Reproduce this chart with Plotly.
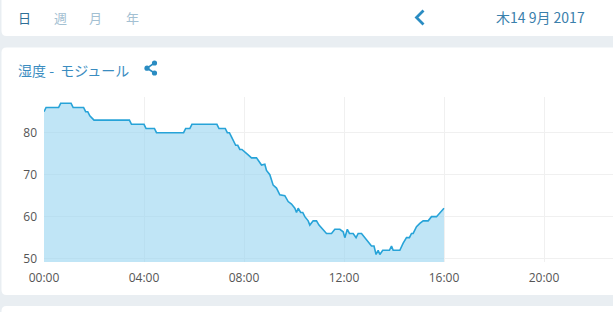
import plotly.graph_objects as go

DAY = "2017-09-14"

times = [
    "00:00", "00:05", "00:35", "00:40", "01:05", "01:10", "01:35", "01:40", "01:45", "01:50",
    "02:00", "03:25", "03:30", "04:00", "04:05", "04:25", "04:30", "05:35", "05:40", "05:50",
    "05:55", "06:55", "07:00", "07:15", "07:20", "07:25", "07:30", "07:35", "07:40", "07:45",
    "07:50", "07:55", "08:00", "08:10", "08:18", "08:30", "08:42", "08:50", "08:54", "09:02",
    "09:10", "09:18", "09:26", "09:38", "09:46", "09:54", "10:02", "10:06", "10:10", "10:16",
    "10:21", "10:26", "10:34", "10:38", "10:46", "10:54", "11:00", "11:10", "11:18", "11:30",
    "11:38", "11:50", "11:58", "12:02", "12:08", "12:13", "12:22", "12:29", "12:34", "12:42",
    "12:50", "12:58", "13:06", "13:12", "13:17", "13:22", "13:26", "13:33", "13:42", "13:49",
    "13:54", "13:58", "14:06", "14:14", "14:22", "14:30", "14:37", "14:42", "14:46", "14:54",
    "15:02", "15:10", "15:22", "15:30", "15:42", "15:50", "15:58", "16:00",
]

humidity = [
    85, 86, 86, 87, 87, 86, 86, 85, 85, 84,
    83, 83, 82, 82, 81, 81, 80, 80, 81, 81,
    82, 82, 81, 81, 80, 80, 79, 78, 77, 77,
    76, 76, 75.5, 74.7, 74, 74, 72.3, 72.5, 71, 70,
    67.5, 66.8, 65.2, 65, 63.6, 63, 62, 61, 62, 61,
    61, 60, 59, 58, 59, 59, 58, 57, 56, 56,
    57, 57, 56.4, 55, 57, 56, 56, 55, 56, 56,
    55, 54, 53, 53, 51, 52, 51, 52, 52, 52,
    53, 52, 52, 52, 53.7, 55, 55, 56, 56, 57.6,
    58.4, 59, 59, 60, 60, 61, 62, 62,
]

y_ticks = [50, 60, 70, 80]
x_tick_labels = ["00:00", "04:00", "08:00", "12:00", "16:00", "20:00"]

tabs = ["日", "週", "月", "年"]
date_label = "木14 9月 2017"
title_label = "湿度 -  モジュール"

# ---- layout geometry (pixels) ----
FW, FH = 613, 312
ML, MR, MT, MB = 44, 0, 97, 50
PW = FW - ML - MR
PH = FH - MT - MB
PLOT_BOTTOM = FH - MB


def px(x):
    return (x - ML) / PW


def py(y):
    return (PLOT_BOTTOM - y) / PH


def rrect(x0, y0, x1, y1, r):
    X0, X1 = px(x0), px(x1)
    Y0, Y1 = py(y0), py(y1)
    rx, ry = r / PW, r / PH
    return (
        f"M {X0 + rx},{Y0} L {X1 - rx},{Y0} Q {X1},{Y0} {X1},{Y0 - ry} "
        f"L {X1},{Y1 + ry} Q {X1},{Y1} {X1 - rx},{Y1} "
        f"L {X0 + rx},{Y1} Q {X0},{Y1} {X0},{Y1 + ry} "
        f"L {X0},{Y0 - ry} Q {X0},{Y0} {X0 + rx},{Y0} Z"
    )


xs = [f"{DAY} {t}" for t in times]

fig = go.Figure()
fig.add_trace(
    go.Scatter(
        x=xs,
        y=humidity,
        mode="lines",
        line=dict(color="#27a3d8", width=1.6),
        fill="tozeroy",
        fillcolor="rgba(150,212,240,0.6)",
        hoverinfo="skip",
    )
)

shapes = []
for (x0, y0, x1, y1) in [(1.5, -10, 660, 36), (1.5, 47.5, 660, 295), (1.5, 306, 660, 360)]:
    shapes.append(dict(type="path", xref="paper", yref="paper", path=rrect(x0, y0, x1, y1, 5),
                       fillcolor="white", line=dict(width=0), layer="below"))

# chevron
shapes.append(dict(type="path", xref="paper", yref="paper",
                   path=f"M {px(423.5)},{py(10.5)} L {px(416.5)},{py(17.5)} L {px(423.5)},{py(24.5)}",
                   line=dict(color="#2a8cc2", width=2.8)))

# share icon
icon_col = "#2a8cc2"
pts = [(154.5, 63), (147, 68.2), (154.5, 73)]
shapes.append(dict(type="path", xref="paper", yref="paper",
                   path=f"M {px(pts[0][0])},{py(pts[0][1])} L {px(pts[1][0])},{py(pts[1][1])} L {px(pts[2][0])},{py(pts[2][1])}",
                   line=dict(color=icon_col, width=1.6)))
for (cx, cy) in pts:
    r = 2.6
    shapes.append(dict(type="circle", xref="paper", yref="paper",
                       x0=px(cx - r), x1=px(cx + r), y0=py(cy + r), y1=py(cy - r),
                       fillcolor=icon_col, line=dict(width=0)))

annotations = []
tab_x = [24.4, 60, 95, 132]
for i, (t, x) in enumerate(zip(tabs, tab_x)):
    annotations.append(dict(text=t, xref="paper", yref="paper", x=px(x), y=py(17.5),
                            xanchor="center", yanchor="middle", showarrow=False,
                            font=dict(family="Noto Sans CJK JP", size=13,
                                      color="#2f6f97" if i == 0 else "#a3c0d2")))
annotations.append(dict(text=date_label, xref="paper", yref="paper", x=px(494), y=py(17.5),
                        xanchor="left", yanchor="middle", showarrow=False,
                        font=dict(family="Noto Sans CJK JP", size=14, color="#3a80ac")))
annotations.append(dict(text=title_label, xref="paper", yref="paper", x=px(16), y=py(70),
                        xanchor="left", yanchor="middle", showarrow=False,
                        font=dict(family="Noto Sans CJK JP", size=14, color="#3a8cc0")))

tick_vals = [f"{DAY} {t}" for t in x_tick_labels]

fig.update_layout(
    width=FW, height=FH,
    margin=dict(l=ML, r=MR, t=MT, b=MB, pad=0),
    paper_bgcolor="#e9eef2",
    plot_bgcolor="rgba(0,0,0,0)",
    showlegend=False,
    hovermode=False,
    shapes=shapes,
    annotations=annotations,
    xaxis=dict(
        type="date",
        range=[f"{DAY} 00:00", f"{DAY} 22:45:36"],
        tickvals=tick_vals,
        ticktext=x_tick_labels,
        showgrid=True, gridcolor="#f0f0f0", gridwidth=1,
        zeroline=False, showline=False, ticks="",
        tickfont=dict(family="Open Sans", size=12, color="#555555"),
        ticklabelstandoff=7,
        fixedrange=True,
    ),
    yaxis=dict(
        range=[49.2, 88.5],
        tickvals=y_ticks,
        showgrid=True, gridcolor="#f0f0f0", gridwidth=1,
        zeroline=False, showline=False, ticks="",
        tickfont=dict(family="Open Sans", size=12, color="#555555"),
        ticklabelstandoff=6,
        fixedrange=True,
    ),
)

fig.write_html("out.html", config={"displayModeBar": False})
